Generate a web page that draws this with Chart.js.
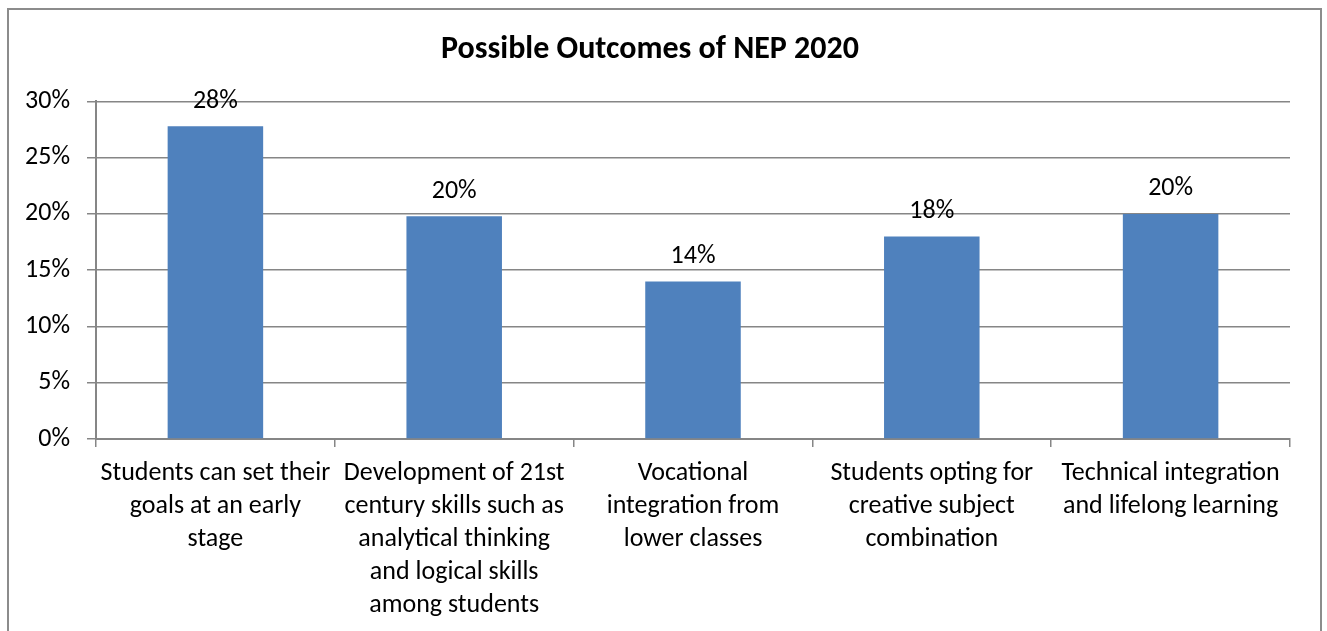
<!DOCTYPE html>
<html>
<head>
<meta charset="utf-8">
<script src="https://cdn.jsdelivr.net/npm/chart.js@4"></script>
<style>
    html, body { margin: 0; padding: 0; background: #fff; }
    #wrap { position: relative; width: 1327px; height: 631px; overflow: hidden; }
    #frame {
        position: absolute; left: 7px; top: 8px; width: 1311px; height: 700px;
        border: 2px solid #8c8c8c; pointer-events: none;
    }
</style>
</head>
<body>
<div id="wrap">
    <canvas id="outcomeChart" width="1327" height="631"></canvas>
    <div id="frame"></div>
</div>
<script>
// 数据
const categories = [
    ['Students can set their', 'goals at an early', 'stage'],
    ['Development of 21st', 'century skills such as', 'analytical thinking', 'and logical skills', 'among students'],
    ['Vocational', 'integration from', 'lower classes'],
    ['Students opting for', 'creative subject', 'combination'],
    ['Technical integration', 'and lifelong learning']
];
const shares = [27.8, 19.8, 14, 18, 20];
const yTicks = [0, 5, 10, 15, 20, 25, 30];

const FONT = 'Carlito, Calibri, Lato, sans-serif';
const AXIS_GREY = '#868686';

// 柱顶数值标签
const valueLabels = {
    id: 'valueLabels',
    afterDatasetsDraw(chart) {
        const ctx = chart.ctx;
        const meta = chart.getDatasetMeta(0);
        ctx.save();
        ctx.font = '26px ' + FONT;
        ctx.fillStyle = '#000';
        ctx.textAlign = 'center';
        ctx.textBaseline = 'middle';
        meta.data.forEach((bar, i) => {
            ctx.fillText(Math.round(shares[i]) + '%', bar.x, bar.y - 25);
        });
        ctx.restore();
    }
};

new Chart(document.getElementById('outcomeChart').getContext('2d'), {
    type: 'bar',
    data: {
        labels: categories,
        datasets: [{
            data: shares,
            backgroundColor: '#4F81BD',
            borderWidth: 0,
            categoryPercentage: 1,
            barPercentage: 0.4
        }]
    },
    options: {
        responsive: false,
        animation: false,
        layout: { padding: { left: 10, right: 37, top: 0, bottom: 0 } },
        plugins: {
            legend: { display: false },
            tooltip: { enabled: false },
            title: {
                display: true,
                text: 'Possible Outcomes of NEP 2020',
                color: '#000',
                font: { family: FONT, size: 32, weight: 'bold', lineHeight: 1.2 },
                padding: { top: 31, bottom: 32 }
            }
        },
        scales: {
            x: {
                offset: true,
                grid: {
                    offset: true,
                    drawOnChartArea: false,
                    drawTicks: true,
                    tickLength: 8,
                    color: AXIS_GREY,
                    lineWidth: 1.5
                },
                border: { color: AXIS_GREY, width: 2 },
                ticks: {
                    color: '#000',
                    maxRotation: 0,
                    autoSkip: false,
                    padding: 10,
                    font: { family: FONT, size: 26, lineHeight: 1.27 }
                },
                afterFit(scale) { scale.height = 192; }
            },
            y: {
                min: 0,
                max: 30,
                afterBuildTicks(scale) {
                    scale.ticks = yTicks.map(v => ({ value: v }));
                },
                grid: {
                    color: AXIS_GREY,
                    lineWidth: 1.5,
                    tickLength: 9
                },
                border: { color: AXIS_GREY, width: 2 },
                ticks: {
                    color: '#000',
                    padding: 17,
                    font: { family: FONT, size: 26 },
                    callback: v => v + '%'
                },
                afterFit(scale) { scale.width = 86; }
            }
        }
    },
    plugins: [valueLabels]
});
</script>
</body>
</html>
